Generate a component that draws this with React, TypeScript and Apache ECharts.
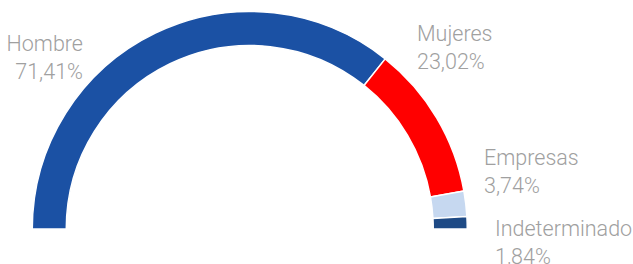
import React, { useEffect, useRef } from "react";
import * as echarts from "echarts";

const categories = ["Hombre", "Mujeres", "Empresas", "Indeterminado"];
const values = [71.41, 23.02, 3.74, 1.84];
const colors = ["#1b51a4", "#ff0000", "#c6d8f0", "#1e4a85"];

// label anchors (layout only)
const labelAnchors = [
  { x: 83, y: 29, align: "right" },
  { x: 417, y: 19, align: "left" },
  { x: 484, y: 143, align: "left" },
  { x: 495, y: 214, align: "left" },
];

export default function App() {
  const ref = useRef<HTMLDivElement>(null);
  useEffect(() => {
    if (!ref.current) return;
    const chart = echarts.init(ref.current, null, { renderer: "svg" });
    chart.setOption({
      animation: false,
      backgroundColor: "#ffffff",
      series: [
        {
          type: "pie",
          center: [249.75, 229],
          radius: [183.5, 217.5],
          startAngle: 180,
          endAngle: 0,
          clockwise: true,
          avoidLabelOverlap: false,
          itemStyle: { borderColor: "#ffffff", borderWidth: 1.5 },
          label: {
            show: true,
            position: "outside",
            color: "#a0a0a0",
            fontFamily: "Roboto",
            fontWeight: 300,
            fontSize: 21.5,
            lineHeight: 28,
            formatter: (p: any) =>
              p.name + "\n" + Number(p.value).toFixed(2).replace(".", ",") + "%",
          },
          labelLine: { show: false },
          labelLayout: (params: any) => {
            const a = labelAnchors[params.dataIndex];
            return { x: a.x, y: a.y, align: a.align, verticalAlign: "top" };
          },
          data: categories.map((c, i) => ({
            name: c,
            value: values[i],
            itemStyle: { color: colors[i] },
          })),
        },
      ],
    });
    return () => chart.dispose();
  }, []);
  return (
    <div
      ref={ref}
      style={{ position: "fixed", left: 0, top: 0, width: 633, height: 264 }}
    />
  );
}
